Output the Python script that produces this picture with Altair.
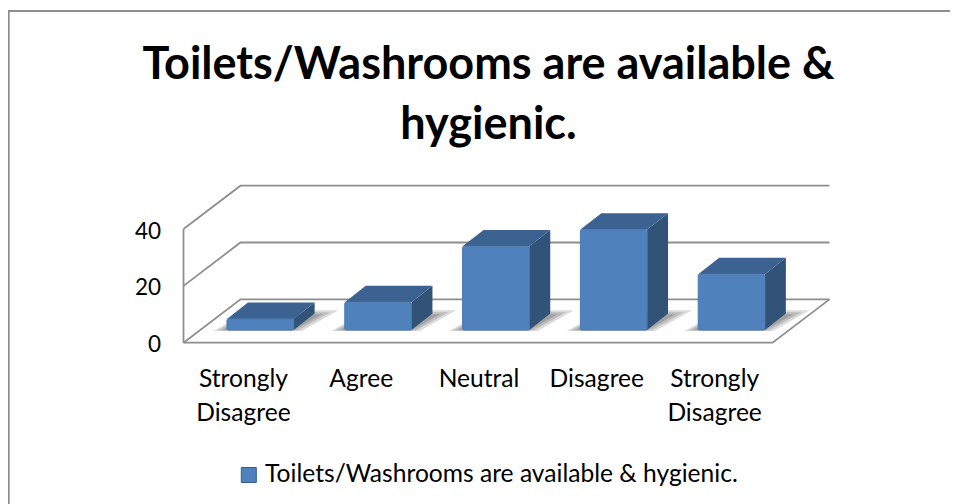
import altair as alt
import pandas as pd

categories = ["Strongly\nDisagree", "Agree", "Neutral", "Disagree", "Strongly\nDisagree"]
values = [4, 10, 30, 36, 20]
series = "Toilets/Washrooms are available & hygienic."
ticks = [0, 20, 40]
title_lines = ["Toilets/Washrooms are available &", "hygienic."]

# 3-D box proportions, in the units of the x (category) and y (value) scales
FLOOR_DX, FLOOR_DY = 0.4835, 15.26
BAR_X0, BAR_Y0 = 0.152, 4.45     # offset of the bars' front face on the floor
BAR_W = 0.566
BAR_DX, BAR_DY = 0.178, 5.8
BAR_SCALE = 0.982
LEFT, TOP, W, H = 175.5, 177.7, 646, 157

fronts, tops, sides, shadows, grid = [], [], [], [], []
for i, v in enumerate(values):
    L = i + BAR_X0 + (1 - BAR_W) / 2
    R = L + BAR_W
    b = BAR_Y0
    t = b + v * BAR_SCALE
    fronts.append(dict(i=i, x=L, x2=R, y=b, y2=t, s=series))
    tops += [dict(i=i, x=L, y=t, y2=t), dict(i=i, x=L + BAR_DX, y=t, y2=t + BAR_DY),
             dict(i=i, x=R, y=t, y2=t + BAR_DY), dict(i=i, x=R + BAR_DX, y=t + BAR_DY, y2=t + BAR_DY)]
    sides += [dict(i=i, x=R, y=b, y2=t), dict(i=i, x=R + BAR_DX, y=b + BAR_DY, y2=t + BAR_DY)]
    for lvl, g in enumerate([0.0, 0.035, 0.07]):
        a, c = L - 0.115 + g, R + 0.07 - g
        d = BAR_DX + 0.12
        top_y = b + 7.0 - g * 20
        bot_y = b - 0.3 + g * 3
        frac = (top_y - bot_y) / 7.0 * d
        shadows += [dict(i=i, l=lvl, x=a, y=bot_y, y2=bot_y), dict(i=i, l=lvl, x=a + frac, y=bot_y, y2=top_y),
                    dict(i=i, l=lvl, x=c, y=bot_y, y2=top_y), dict(i=i, l=lvl, x=c + frac, y=top_y, y2=top_y)]

n = len(values)
for v in ticks:
    grid += [dict(g=f"t{v}", k=0, x=0, y=v), dict(g=f"t{v}", k=1, x=FLOOR_DX, y=v + FLOOR_DY),
             dict(g=f"t{v}", k=2, x=n + FLOOR_DX, y=v + FLOOR_DY)]
grid += [dict(g="floor", k=0, x=n + FLOOR_DX, y=FLOOR_DY), dict(g="floor", k=1, x=n, y=0), dict(g="floor", k=2, x=0, y=0),
         dict(g="wall", k=0, x=0, y=0), dict(g="wall", k=1, x=0, y=ticks[-1])]

xs = alt.Scale(domain=[0, n + FLOOR_DX], nice=False, zero=False)
ys = alt.Scale(domain=[0, ticks[-1] + FLOOR_DY], nice=False, zero=False)
X = alt.X("x:Q", scale=xs, axis=None)
FONT = "Lato"

lines = alt.Chart(pd.DataFrame(grid)).mark_line(color="#8e8e8e", strokeWidth=1.8).encode(
    X,
    alt.Y("y:Q", scale=ys, axis=alt.Axis(values=ticks, title=None, domain=False, ticks=False, grid=False,
                                         labelFont=FONT, labelFontSize=22.5, labelColor="#000000", labelPadding=23,
                                         labelOffset=2)),
    detail="g:N", order="k:O")

shadow = alt.Chart(pd.DataFrame(shadows)).mark_area(color="#000000", opacity=0.14, interpolate="linear").encode(
    X, alt.Y("y:Q", scale=ys), alt.Y2("y2:Q"), detail="d:N"
).transform_calculate(d="datum.i + '-' + datum.l")

side = alt.Chart(pd.DataFrame(sides)).mark_area(color="#315378").encode(
    X, alt.Y("y:Q", scale=ys), alt.Y2("y2:Q"), detail="i:N")
top = alt.Chart(pd.DataFrame(tops)).mark_area(color="#3b6290").encode(
    X, alt.Y("y:Q", scale=ys), alt.Y2("y2:Q"), detail="i:N")
front = alt.Chart(pd.DataFrame(fronts)).mark_bar(cornerRadius=1.5, stroke="#4a79b2", strokeWidth=1).encode(
    X, alt.X2("x2:Q"), alt.Y("y:Q", scale=ys), alt.Y2("y2:Q"),
    color=alt.Color("s:N", scale=alt.Scale(domain=[series], range=["#4f81bd"]), title=None,
                    legend=alt.Legend(orient="none", legendX=53, legendY=277, symbolType="square", symbolSize=225,
                                      symbolStrokeColor="#2f5f96", symbolStrokeWidth=1,
                                      labelFont=FONT, labelFontSize=24.6, labelColor="#000000", labelLimit=600,
                                      labelOffset=4, padding=0)))

xlabels = alt.Chart(pd.DataFrame({"label": categories, "x": [i + 0.5 for i in range(n)]})).mark_text(
    font=FONT, fontSize=24.6, lineHeight=34, lineBreak="\n", baseline="top", color="#000000", dx=1
).encode(X, y=alt.value(182), text="label:N")

frame_top = alt.Chart(pd.DataFrame({"a": [0]})).mark_rule(color="#8e8e8e", strokeWidth=2).encode(
    x=alt.value(-LEFT - 1), x2=alt.value(W + 200), y=alt.value(-TOP + 3))
frame_left = alt.Chart(pd.DataFrame({"a": [0]})).mark_rule(color="#8e8e8e", strokeWidth=2).encode(
    x=alt.value(-LEFT + 0.7), y=alt.value(-TOP + 2), y2=alt.value(H + 200))

chart = alt.layer(frame_top, frame_left, lines, shadow, side, top, front, xlabels).properties(
    width=W, height=H,
    padding={"left": LEFT, "top": TOP, "right": 942 - LEFT - W, "bottom": 496 - TOP - H},
    autosize=alt.AutoSizeParams(type="none"),
    title=alt.TitleParams(text=title_lines, font=FONT, fontSize=45, fontWeight="bold", color="#000000",
                          anchor="middle", lineHeight=60, dx=-18, offset=0, dy=184, baseline="bottom"),
).configure_view(stroke=None)

chart.save("out.html", embed_options={"renderer": "svg", "actions": False})
